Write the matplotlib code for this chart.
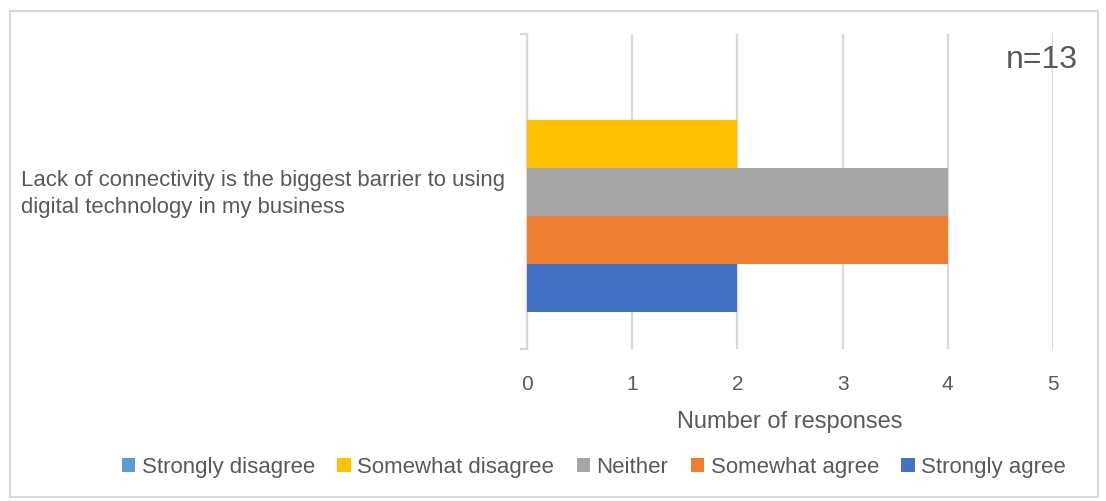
import matplotlib.pyplot as plt
from matplotlib.patches import Rectangle

plt.rcParams['font.family'] = ['Liberation Sans', 'DejaVu Sans']

category = 'Lack of connectivity is the biggest barrier to using\ndigital technology in my business'
series = ['Strongly disagree', 'Somewhat disagree', 'Neither', 'Somewhat agree', 'Strongly agree']
values = [0, 2, 4, 4, 2]
colors = ['#5B9BD5', '#FFC000', '#A5A5A5', '#ED7D31', '#4472C4']
text_col = '#595959'
grid_col = '#D9D9D9'

fig = plt.figure(figsize=(11.06, 5.02), dpi=100)
ax = fig.add_axes([527 / 1106, 1 - 350 / 502, (1053 - 527) / 1106, 315 / 502])

# outer chart border
fig.patches.append(Rectangle((10 / 1106, 4 / 502), 1088 / 1106, 486 / 502,
                             transform=fig.transFigure, fill=False,
                             edgecolor=grid_col, linewidth=1.5))

h = 48 / 315
for i, (name, v, c) in enumerate(zip(series, values, colors)):
    ax.barh(0.5 + (i - 2) * h, v, height=h, color=c, label=name, zorder=3)

ax.set_xlim(0, 5)
ax.set_ylim(1, 0)
ax.set_xticks(range(6))
ax.grid(axis='x', color=grid_col, linewidth=1.6, zorder=0)
for s in ['top', 'right', 'bottom']:
    ax.spines[s].set_visible(False)
ax.spines['left'].set_color(grid_col)
ax.spines['left'].set_linewidth(1.6)
ax.tick_params(axis='x', length=0, pad=18, labelsize=15, labelcolor=text_col)

ax.set_yticks([0, 1])
ax.set_yticklabels(['', ''])
ax.tick_params(axis='y', length=5, width=1.6, color=grid_col)
ax.text(-22 / 526 * 5, 0.505, category, ha='right', va='center', multialignment='left',
        fontsize=15.9, color=text_col, linespacing=1.4)

ax.set_xlabel('Number of responses', fontsize=17, color=text_col, labelpad=12)

fig.text(1078 / 1106, 1 - 60 / 502, 'n=13', ha='right', va='center', fontsize=23, color=text_col)

handles, labels = ax.get_legend_handles_labels()
fig.legend(handles, labels, loc='center', bbox_to_anchor=(594 / 1106, 1 - 468 / 502),
           ncol=5, frameon=False, fontsize=16, labelcolor=text_col,
           handlelength=0.6, handleheight=0.6, handletextpad=0.3, columnspacing=1.0)

fig.savefig('out.png', dpi=100)
